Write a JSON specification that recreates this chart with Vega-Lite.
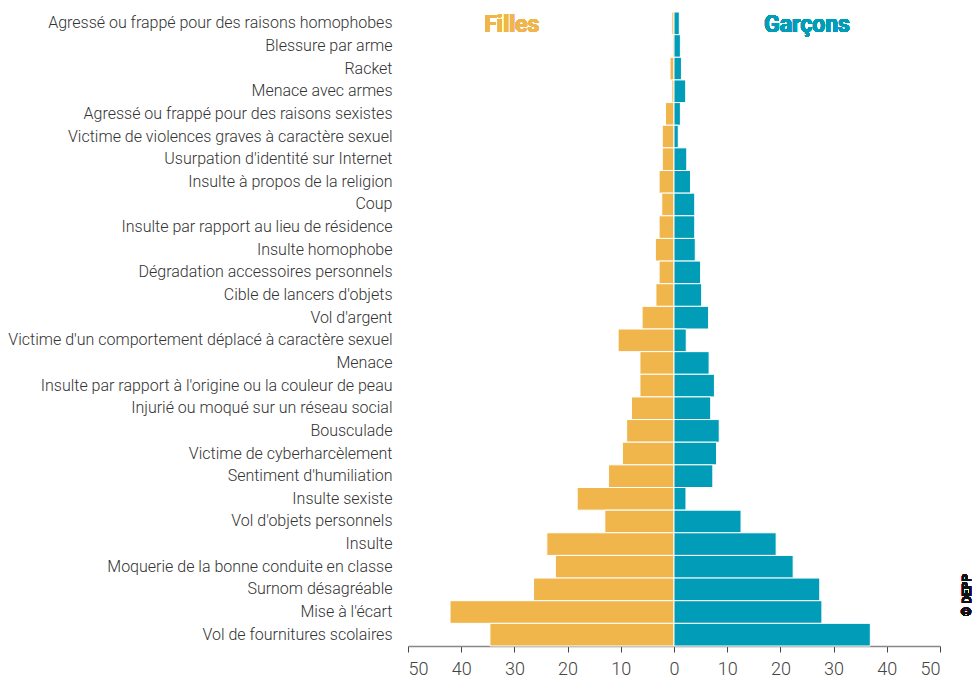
{
  "$schema": "https://vega.github.io/schema/vega-lite/v6.json",
  "width": 532,
  "height": 634,
  "autosize": {"type": "none"},
  "padding": {"left": 408, "top": 12, "right": 34, "bottom": 33},
  "background": "white",
  "config": {"view": {"stroke": null}, "font": "Roboto"},
  "data": {
    "values": [
      {"cat": "Agressé ou frappé pour des raisons homophobes", "sexe": "Filles", "v": -0.4},
      {"cat": "Agressé ou frappé pour des raisons homophobes", "sexe": "Garçons", "v": 1.0},
      {"cat": "Blessure par arme", "sexe": "Filles", "v": -0.3},
      {"cat": "Blessure par arme", "sexe": "Garçons", "v": 1.2},
      {"cat": "Racket", "sexe": "Filles", "v": -0.75},
      {"cat": "Racket", "sexe": "Garçons", "v": 1.4},
      {"cat": "Menace avec armes", "sexe": "Filles", "v": -0.4},
      {"cat": "Menace avec armes", "sexe": "Garçons", "v": 2.2},
      {"cat": "Agressé ou frappé pour des raisons sexistes", "sexe": "Filles", "v": -1.6},
      {"cat": "Agressé ou frappé pour des raisons sexistes", "sexe": "Garçons", "v": 1.2},
      {"cat": "Victime de violences graves à caractère sexuel", "sexe": "Filles", "v": -2.2},
      {"cat": "Victime de violences graves à caractère sexuel", "sexe": "Garçons", "v": 0.8},
      {"cat": "Usurpation d'identité sur Internet", "sexe": "Filles", "v": -2.2},
      {"cat": "Usurpation d'identité sur Internet", "sexe": "Garçons", "v": 2.4},
      {"cat": "Insulte à propos de la religion", "sexe": "Filles", "v": -2.8},
      {"cat": "Insulte à propos de la religion", "sexe": "Garçons", "v": 3.1},
      {"cat": "Coup", "sexe": "Filles", "v": -2.3},
      {"cat": "Coup", "sexe": "Garçons", "v": 3.9},
      {"cat": "Insulte par rapport au lieu de résidence", "sexe": "Filles", "v": -2.8},
      {"cat": "Insulte par rapport au lieu de résidence", "sexe": "Garçons", "v": 3.9},
      {"cat": "Insulte homophobe", "sexe": "Filles", "v": -3.5},
      {"cat": "Insulte homophobe", "sexe": "Garçons", "v": 4.0},
      {"cat": "Dégradation accessoires personnels", "sexe": "Filles", "v": -2.8},
      {"cat": "Dégradation accessoires personnels", "sexe": "Garçons", "v": 5.0},
      {"cat": "Cible de lancers d'objets", "sexe": "Filles", "v": -3.4},
      {"cat": "Cible de lancers d'objets", "sexe": "Garçons", "v": 5.2},
      {"cat": "Vol d'argent", "sexe": "Filles", "v": -6.0},
      {"cat": "Vol d'argent", "sexe": "Garçons", "v": 6.5},
      {"cat": "Victime d'un comportement déplacé à caractère sexuel", "sexe": "Filles", "v": -10.5},
      {"cat": "Victime d'un comportement déplacé à caractère sexuel", "sexe": "Garçons", "v": 2.3},
      {"cat": "Menace", "sexe": "Filles", "v": -6.4},
      {"cat": "Menace", "sexe": "Garçons", "v": 6.6},
      {"cat": "Insulte par rapport à l'origine ou la couleur de peau", "sexe": "Filles", "v": -6.4},
      {"cat": "Insulte par rapport à l'origine ou la couleur de peau", "sexe": "Garçons", "v": 7.6},
      {"cat": "Injurié ou moqué sur un réseau social", "sexe": "Filles", "v": -8.0},
      {"cat": "Injurié ou moqué sur un réseau social", "sexe": "Garçons", "v": 6.9},
      {"cat": "Bousculade", "sexe": "Filles", "v": -8.9},
      {"cat": "Bousculade", "sexe": "Garçons", "v": 8.5},
      {"cat": "Victime de cyberharcèlement", "sexe": "Filles", "v": -9.7},
      {"cat": "Victime de cyberharcèlement", "sexe": "Garçons", "v": 8.0},
      {"cat": "Sentiment d'humiliation", "sexe": "Filles", "v": -12.3},
      {"cat": "Sentiment d'humiliation", "sexe": "Garçons", "v": 7.3},
      {"cat": "Insulte sexiste", "sexe": "Filles", "v": -18.2},
      {"cat": "Insulte sexiste", "sexe": "Garçons", "v": 2.25},
      {"cat": "Vol d'objets personnels", "sexe": "Filles", "v": -13.0},
      {"cat": "Vol d'objets personnels", "sexe": "Garçons", "v": 12.6},
      {"cat": "Insulte", "sexe": "Filles", "v": -23.9},
      {"cat": "Insulte", "sexe": "Garçons", "v": 19.2},
      {"cat": "Moquerie de la bonne conduite en classe", "sexe": "Filles", "v": -22.3},
      {"cat": "Moquerie de la bonne conduite en classe", "sexe": "Garçons", "v": 22.4},
      {"cat": "Surnom désagréable", "sexe": "Filles", "v": -26.4},
      {"cat": "Surnom désagréable", "sexe": "Garçons", "v": 27.4},
      {"cat": "Mise à l'écart", "sexe": "Filles", "v": -42.1},
      {"cat": "Mise à l'écart", "sexe": "Garçons", "v": 27.8},
      {"cat": "Vol de fournitures scolaires", "sexe": "Filles", "v": -34.6},
      {"cat": "Vol de fournitures scolaires", "sexe": "Garçons", "v": 36.9}
    ]
  },
  "encoding": {
    "y": {
      "field": "cat",
      "type": "nominal",
      "sort": null,
      "scale": {"paddingInner": 0, "paddingOuter": 0},
      "axis": {
        "title": null,
        "ticks": false,
        "tickSize": 0,
        "domain": false,
        "labelPadding": 16,
        "labelFontSize": 16,
        "labelFont": "Roboto",
        "labelFontWeight": 300,
        "labelColor": "#333333",
        "labelLimit": 420
      }
    }
  },
  "layer": [
    {
      "mark": {"type": "bar", "stroke": "white", "strokeWidth": 1},
      "encoding": {
        "x": {
          "field": "v",
          "type": "quantitative",
          "scale": {"domain": [-50, 50], "nice": false},
          "axis": {
            "title": null,
            "values": [-50, -40, -30, -20, -10, 0, 10, 20, 30, 40, 50],
            "labelExpr": "abs(datum.value)",
            "grid": false,
            "domainColor": "#888888",
            "domainWidth": 1.5,
            "tickColor": "#444444",
            "tickSize": 6,
            "labelFontSize": 18,
            "labelFont": "Roboto",
            "labelFontWeight": 300,
            "labelColor": "#444444",
            "labelPadding": 8
          }
        },
        "color": {
          "field": "sexe",
          "type": "nominal",
          "scale": {"domain": ["Filles", "Garçons"], "range": ["#F0B64B", "#009CB8"]},
          "legend": null
        }
      }
    },
    {
      "mark": {"type": "text", "font": "Roboto", "fontWeight": "bold", "fontSize": 23, "color": "#F0B64B", "align": "center", "baseline": "middle", "yOffset": 2},
      "encoding": {
        "x": {"datum": -30.5},
        "y": {"datum": "Agressé ou frappé pour des raisons homophobes"},
        "text": {"value": "Filles"}
      }
    },
    {
      "mark": {"type": "text", "font": "Roboto", "fontWeight": "bold", "fontSize": 23, "color": "#009CB8", "align": "center", "baseline": "middle", "yOffset": 2},
      "encoding": {
        "x": {"datum": 25},
        "y": {"datum": "Agressé ou frappé pour des raisons homophobes"},
        "text": {"value": "Garçons"}
      }
    },
    {
      "mark": {"type": "text", "font": "Roboto", "fontWeight": "bold", "fontSize": 12, "color": "#111111", "align": "center", "baseline": "middle", "angle": 270, "yOffset": -17},
      "encoding": {
        "x": {"datum": 55},
        "y": {"datum": "Mise à l'écart"},
        "text": {"value": "© DEPP"}
      }
    }
  ]
}
